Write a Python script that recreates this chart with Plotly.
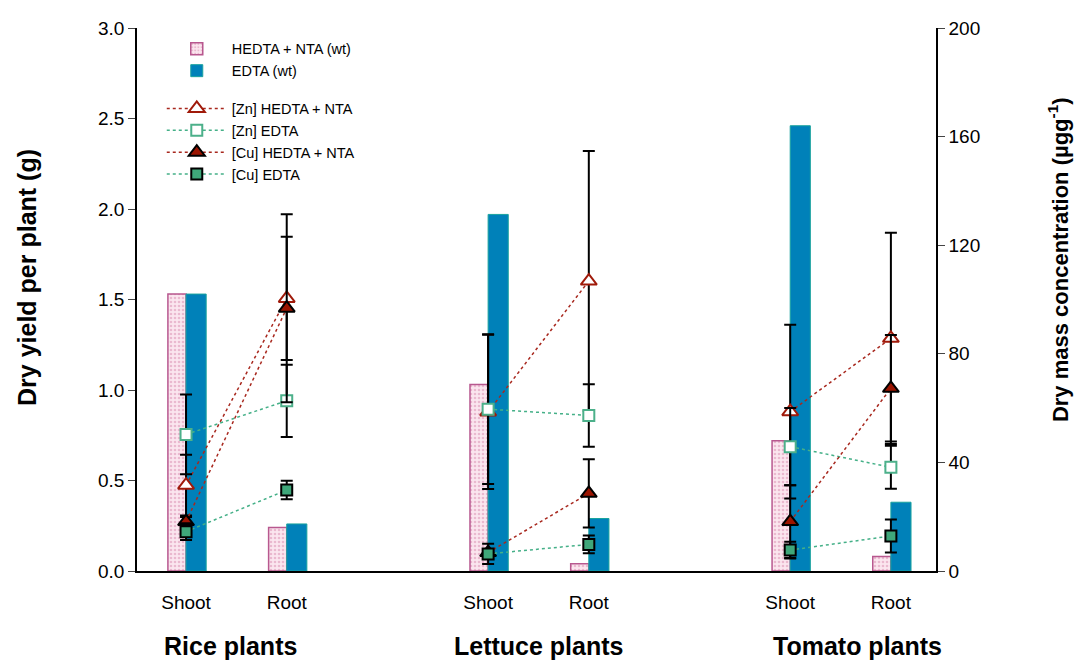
import plotly.graph_objects as go

# --- data ---
plants = ['Rice plants', 'Lettuce plants', 'Tomato plants']
parts = ['Shoot', 'Root']

# dry yield per plant (g), order: rice shoot, rice root, lettuce shoot, lettuce root, tomato shoot, tomato root
yield_hedta = [1.53, 0.24, 1.03, 0.04, 0.72, 0.08]
yield_edta = [1.53, 0.26, 1.97, 0.29, 2.46, 0.38]

# dry mass concentration (ug/g) and error bars
zn_hedta = [31.6, 100.4, 58.6, 106.8, 58.7, 85.7]
zn_hedta_err = [11.2, 22.7, 28.4, 47.9, 32.0, 38.9]
zn_edta = [50.3, 62.7, 59.6, 57.3, 45.8, 38.2]
zn_edta_err = [14.7, 13.3, 27.6, 11.5, 14.2, 7.9]
cu_hedta = [18.2, 96.8, 6.8, 28.6, 18.2, 67.3]
cu_hedta_err = [1.7, 34.6, 1.0, 12.6, 13.4, 19.6]
cu_edta = [14.5, 29.8, 6.3, 9.8, 7.7, 12.9]
cu_edta_err = [3.1, 3.4, 3.7, 3.3, 3.1, 6.1]

# x position of each shoot/root slot: groups are 3 units apart
xpos = [3 * g + k for g in range(len(plants)) for k in range(len(parts))]
xlabels = [p for _ in plants for p in parts]


def with_gaps(vals):
    # break the dotted line between plant groups
    out = []
    for i, v in enumerate(vals):
        out.append(v)
        if i % 2 == 1 and i < len(vals) - 1:
            out.append(None)
    return out


FONT = 'Arial, Liberation Sans, sans-serif'
RED_LINE = '#a8281e'
GREEN_LINE = '#45b088'

fig = go.Figure()

fig.add_trace(go.Bar(
    x=xpos, y=yield_hedta, name='HEDTA + NTA (wt)',
    offset=-0.18, width=0.18, legendgroup='wt',
    marker=dict(color='#f9dfeb', line=dict(color='#b8588f', width=1.5),
                pattern=dict(shape='.', fgcolor='#d98cb0', bgcolor='#fbe6ef',
                             size=4, solidity=0.35)),
))
fig.add_trace(go.Bar(
    x=xpos, y=yield_edta, name='EDTA (wt)',
    offset=0, width=0.2, legendgroup='wt',
    marker=dict(color='#0081b9', line=dict(color='#1aa39e', width=1)),
))

series = [
    ('[Zn] HEDTA + NTA', zn_hedta, zn_hedta_err, 'triangle-up', 'white', RED_LINE, '#a01a0a', 14),
    ('[Zn] EDTA', zn_edta, zn_edta_err, 'square', 'white', GREEN_LINE, '#4cb08a', 11),
    ('[Cu] HEDTA + NTA', cu_hedta, cu_hedta_err, 'triangle-up', '#9b1400', RED_LINE, 'black', 14),
    ('[Cu] EDTA', cu_edta, cu_edta_err, 'square', '#3fa77a', GREEN_LINE, 'black', 11),
]
for name, vals, errs, sym, fill, lcol, mline, size in series:
    fig.add_trace(go.Scatter(
        x=with_gaps(xpos), y=with_gaps(vals), name=name, yaxis='y2',
        mode='lines+markers', legendgroup='conc', connectgaps=False,
        line=dict(color=lcol, width=1.5, dash='dot'),
        marker=dict(symbol=sym, size=size, color=fill, line=dict(color=mline, width=2)),
        error_y=dict(type='data', array=with_gaps(errs), color='black',
                     thickness=2, width=6),
    ))

fig.update_layout(
    width=1074, height=660,
    margin=dict(l=137, r=138, t=28, b=89, autoexpand=False),
    plot_bgcolor='white', paper_bgcolor='white',
    font=dict(family=FONT, size=19, color='black'),
    barmode='overlay',
    showlegend=True,
    legend=dict(x=0.031, y=0.991, xanchor='left', yanchor='top',
                font=dict(size=14.5), itemwidth=60, tracegroupgap=16,
                traceorder='grouped', bgcolor='rgba(0,0,0,0)'),
    xaxis=dict(range=[-0.487, 7.448], tickvals=xpos, ticktext=xlabels,
               showline=True, linecolor='black', linewidth=2, ticks='',
               showgrid=False, zeroline=False, ticklabelstandoff=13),
    yaxis=dict(range=[0, 3], dtick=0.5, tickformat='.1f', showline=True,
               linecolor='black', linewidth=1.5, ticks='outside', ticklen=7,
               showgrid=False, zeroline=False),
    yaxis2=dict(range=[0, 200], dtick=40, overlaying='y', side='right',
                showline=True, linecolor='black', linewidth=1.5,
                ticks='outside', ticklen=7, showgrid=False, zeroline=False),
)

# axis titles
fig.add_annotation(text='<b>Dry yield per plant (g)</b>', x=-0.138, y=0.541,
                   xref='paper', yref='paper', textangle=-90, showarrow=False,
                   xanchor='center', yanchor='middle', font=dict(size=25))
fig.add_annotation(text='<b>Dry mass concentration (\u00b5gg<sup>-1</sup>)</b>',
                   x=1.153, y=0.573, xref='paper', yref='paper', textangle=-90,
                   xanchor='center', yanchor='middle', showarrow=False,
                   font=dict(size=22))

# plant group labels under the shoot/root labels
label_x = [0.44, 3.5, 6.67]
for lx, label in zip(label_x, plants):
    fig.add_annotation(text='<b>%s</b>' % label, x=lx, y=-0.138,
                       xref='x', yref='paper', showarrow=False,
                       xanchor='center', yanchor='middle', font=dict(size=25))

fig.write_html('out.html', config={'displayModeBar': False},
               post_script="document.body.style.margin='0px';")
